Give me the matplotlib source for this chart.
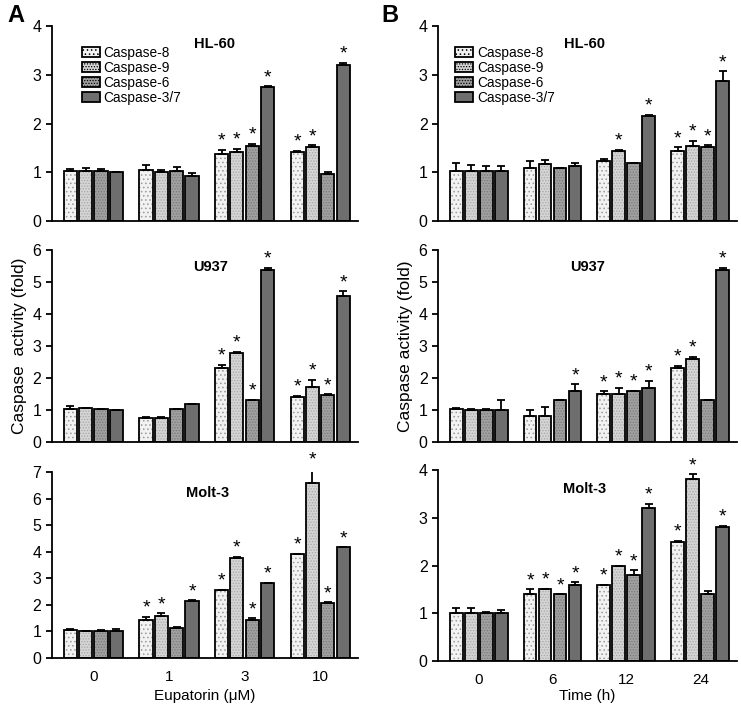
import numpy as np
import matplotlib.pyplot as plt
from matplotlib.patches import Patch

plt.rcParams['font.family'] = ['Liberation Sans', 'DejaVu Sans']
plt.rcParams['hatch.linewidth'] = 0.6

caspases = ["Caspase-8", "Caspase-9", "Caspase-6", "Caspase-3/7"]
doses = ["0", "1", "3", "10"]
times = ["0", "6", "12", "24"]

# Panel A, eupatorin dose; rows = caspases, columns = doses
hl60_dose = [[1.02, 1.04, 1.37, 1.42],
             [1.03, 1.00, 1.42, 1.52],
             [1.03, 1.02, 1.54, 0.96],
             [1.01, 0.92, 2.75, 3.20]]
hl60_dose_err = [[0.05, 0.10, 0.09, 0.02],
                 [0.06, 0.05, 0.06, 0.04],
                 [0.03, 0.08, 0.05, 0.04],
                 [0.00, 0.07, 0.02, 0.05]]
hl60_dose_sig = [[0, 0, 1, 1], [0, 0, 1, 1], [0, 0, 1, 0], [0, 0, 1, 1]]

u937_dose = [[1.03, 0.75, 2.32, 1.40],
             [1.05, 0.75, 2.79, 1.73],
             [1.02, 1.03, 1.31, 1.46],
             [1.01, 1.20, 5.37, 4.56]]
u937_dose_err = [[0.09, 0.02, 0.10, 0.04],
                 [0.02, 0.02, 0.03, 0.22],
                 [0.01, 0.01, 0.01, 0.03],
                 [0.00, 0.00, 0.08, 0.15]]
u937_dose_sig = [[0, 0, 1, 1], [0, 0, 1, 1], [0, 0, 1, 1], [0, 0, 1, 1]]

molt3_dose = [[1.07, 1.43, 2.56, 3.93],
              [1.00, 1.59, 3.76, 6.61],
              [1.02, 1.14, 1.43, 2.08],
              [1.02, 2.14, 2.81, 4.18]]
molt3_dose_err = [[0.03, 0.12, 0.02, 0.00],
                  [0.02, 0.10, 0.06, 0.55],
                  [0.02, 0.03, 0.07, 0.03],
                  [0.08, 0.03, 0.03, 0.00]]
molt3_dose_sig = [[0, 1, 1, 1], [0, 1, 1, 1], [0, 0, 1, 1], [0, 1, 1, 1]]

# Panel B, time course
hl60_time = [[1.03, 1.09, 1.23, 1.44],
             [1.02, 1.17, 1.43, 1.54],
             [1.03, 1.08, 1.18, 1.52],
             [1.03, 1.13, 2.15, 2.87]]
hl60_time_err = [[0.16, 0.14, 0.05, 0.07],
                 [0.13, 0.08, 0.03, 0.11],
                 [0.09, 0.00, 0.02, 0.03],
                 [0.09, 0.05, 0.03, 0.20]]
hl60_time_sig = [[0, 0, 0, 1], [0, 0, 1, 1], [0, 0, 0, 1], [0, 0, 1, 1]]

u937_time = [[1.02, 0.80, 1.50, 2.30],
             [1.01, 0.80, 1.50, 2.60],
             [1.01, 1.30, 1.60, 1.30],
             [1.01, 1.60, 1.70, 5.37]]
u937_time_err = [[0.05, 0.20, 0.08, 0.08],
                 [0.02, 0.30, 0.20, 0.07],
                 [0.02, 0.00, 0.00, 0.00],
                 [0.30, 0.20, 0.22, 0.07]]
u937_time_sig = [[0, 0, 1, 1], [0, 0, 1, 1], [0, 0, 1, 0], [0, 1, 1, 1]]

molt3_time = [[1.00, 1.41, 1.60, 2.50],
              [1.00, 1.51, 2.00, 3.82],
              [1.00, 1.40, 1.80, 1.40],
              [1.00, 1.60, 3.20, 2.80]]
molt3_time_err = [[0.10, 0.09, 0.00, 0.02],
                  [0.10, 0.00, 0.00, 0.10],
                  [0.02, 0.00, 0.10, 0.07],
                  [0.07, 0.05, 0.10, 0.03]]
molt3_time_sig = [[0, 1, 1, 1], [0, 1, 1, 1], [0, 1, 1, 0], [0, 1, 1, 1]]

fills = ["#f2f2f2", "#d4d4d4", "#a0a0a0", "#6e6e6e"]
dots = ["#9a9a9a", "#a8a8a8", "#7a7a7a", "#606060"]
hatches = ["....", "......", "......", None]


def draw_panel(ax, vals, errs, sig, ymax, title, title_x, title_y, labels=None):
    x = np.arange(4)
    width = 0.175
    step = 0.203
    for i in range(4):
        pos = x + (i - 1.5) * step
        ax.bar(pos, vals[i], width, color=fills[i], hatch=hatches[i],
               edgecolor=dots[i], linewidth=0)
        ax.bar(pos, vals[i], width, facecolor="none", edgecolor="black",
               linewidth=1.3)
        ax.errorbar(pos, vals[i], yerr=[np.zeros(4), errs[i]], fmt="none",
                    ecolor="black", elinewidth=1.3, capsize=2.8, capthick=1.3)
        for j in range(4):
            if sig[i][j]:
                ax.annotate("*", (pos[j], vals[i][j] + errs[i][j]),
                            xytext=(0, 0), textcoords="offset points",
                            ha="center", va="bottom", fontsize=14,
                            annotation_clip=False)
    ax.set_xlim(-0.55, 3.5)
    ax.set_ylim(0, ymax)
    ax.set_yticks(range(ymax + 1))
    ax.spines["top"].set_visible(False)
    ax.spines["right"].set_visible(False)
    ax.spines["left"].set_linewidth(1.3)
    ax.spines["bottom"].set_linewidth(1.3)
    ax.tick_params(axis="y", direction="out", length=4, width=1.3,
                   labelsize=11.5)
    ax.tick_params(axis="x", length=0, labelsize=11, pad=9)
    ax.set_xticks(x)
    if labels is None:
        ax.set_xticklabels([])
    else:
        ax.set_xticklabels(labels)
    ax.text(title_x, title_y, title, transform=ax.transAxes, ha="center",
            va="center", fontsize=10.5, fontweight="bold")


def add_legend(ax, x0):
    handles = [Patch(facecolor=fills[i], hatch=hatches[i], edgecolor="black",
                     linewidth=1.3) for i in range(4)]
    ax.legend(handles, caspases, loc="upper left", bbox_to_anchor=(x0, 0.90),
              frameon=False, fontsize=9.8, handlelength=1.3, handleheight=0.7,
              handletextpad=0.3, labelspacing=0.08, borderaxespad=0,
              borderpad=0)


fig = plt.figure(figsize=(7.41, 7.06), dpi=100)

axA1 = fig.add_axes([0.070, 0.687, 0.413, 0.276])
axA2 = fig.add_axes([0.070, 0.374, 0.413, 0.272])
axA3 = fig.add_axes([0.070, 0.068, 0.413, 0.263])
axB1 = fig.add_axes([0.591, 0.687, 0.404, 0.276])
axB2 = fig.add_axes([0.591, 0.374, 0.404, 0.272])
axB3 = fig.add_axes([0.591, 0.064, 0.404, 0.270])

draw_panel(axA1, hl60_dose, hl60_dose_err, hl60_dose_sig, 4, "HL-60", 0.53, 0.91)
draw_panel(axA2, u937_dose, u937_dose_err, u937_dose_sig, 6, "U937", 0.52, 0.91)
draw_panel(axA3, molt3_dose, molt3_dose_err, molt3_dose_sig, 7, "Molt-3", 0.51, 0.89,
           labels=doses)
draw_panel(axB1, hl60_time, hl60_time_err, hl60_time_sig, 4, "HL-60", 0.49, 0.91)
draw_panel(axB2, u937_time, u937_time_err, u937_time_sig, 6, "U937", 0.50, 0.91)
draw_panel(axB3, molt3_time, molt3_time_err, molt3_time_sig, 4, "Molt-3", 0.49, 0.90,
           labels=times)

add_legend(axA1, 0.098)
add_legend(axB1, 0.057)

axA2.set_ylabel("Caspase  activity (fold)", fontsize=12.5, labelpad=4)
axB2.set_ylabel("Caspase activity (fold)", fontsize=12.5, labelpad=4)
axA3.set_xlabel("Eupatorin (\u03bcM)", fontsize=11, labelpad=3.5)
axB3.set_xlabel("Time (h)", fontsize=11, labelpad=1.5)

fig.text(0.010, 0.978, "A", fontsize=17, fontweight="bold", va="center")
fig.text(0.515, 0.978, "B", fontsize=17, fontweight="bold", va="center")

fig.savefig("out.png", dpi=100)
